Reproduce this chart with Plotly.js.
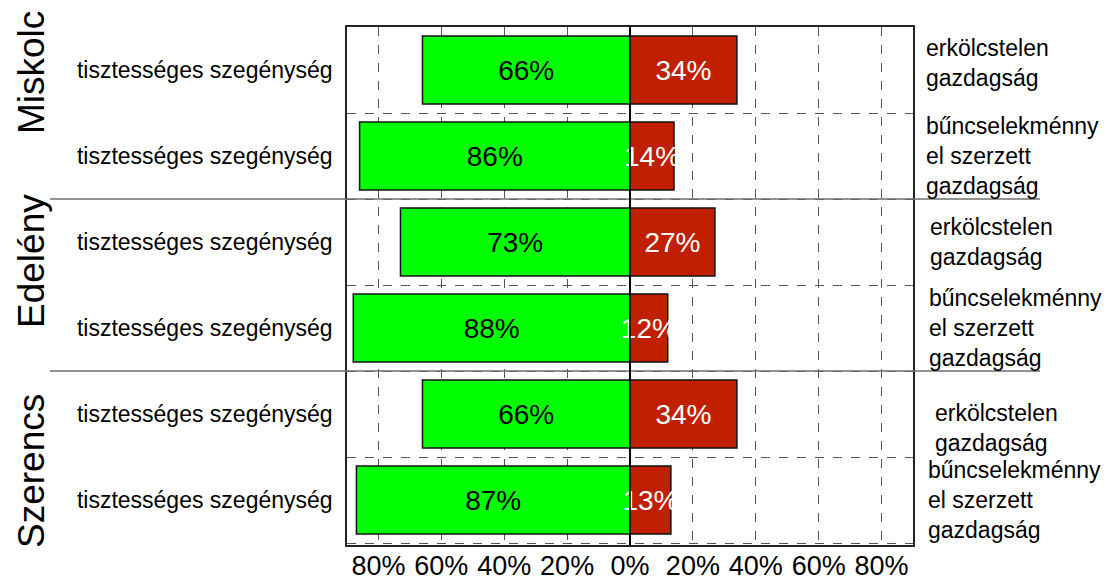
<!DOCTYPE html>
<html>
<head>
<meta charset="utf-8">
<script src="https://cdn.plot.ly/plotly-3.0.1.min.js"></script>
<style>html,body{margin:0;padding:0;background:#fff;}</style>
</head>
<body>
<div id="chart" style="width:1109px;height:584px;"></div>
<script>
// ---- data ----
const groups = ["Miskolc", "Edelény", "Szerencs"];
const rowIds = ["Miskolc-1", "Miskolc-2", "Edelény-1", "Edelény-2", "Szerencs-1", "Szerencs-2"];
const leftLabels = [
  "tisztességes szegénység", "tisztességes szegénység",
  "tisztességes szegénység", "tisztességes szegénység",
  "tisztességes szegénység", "tisztességes szegénység"
];
const rightLabels = [
  "erkölcstelen<br>gazdagság", "bűncselekménny<br>el szerzett<br>gazdagság",
  "erkölcstelen<br>gazdagság", "bűncselekménny<br>el szerzett<br>gazdagság",
  "erkölcstelen<br>gazdagság", "bűncselekménny<br>el szerzett<br>gazdagság"
];
const honestPoverty = [66, 86, 73, 88, 66, 87];   // left (green) share, %
const immoralWealth = [34, 14, 27, 12, 34, 13];   // right (red) share, %
const xTickVals = [-80, -60, -40, -20, 0, 20, 40, 60, 80];
const xTickText = ["80%", "60%", "40%", "20%", "0%", "20%", "40%", "60%", "80%"];

// ---- styling ----
const FONT = "Liberation Sans, Arial, Helvetica, sans-serif";
const W = 1109, H = 584;
const M = {l: 347, r: 196, t: 27, b: 39};
const plotW = W - M.l - M.r;
const pxToPaperX = px => (px - M.l) / plotW;

const traces = [
  {
    type: "bar", orientation: "h", y: rowIds,
    x: honestPoverty.map(v => -v),
    text: honestPoverty.map(v => v + "%"),
    textposition: "inside", insidetextanchor: "middle", constraintext: "none", textangle: 0,
    textfont: {family: FONT, size: 28, color: "#000"},
    marker: {color: "#00FF00", line: {color: "#111", width: 1.5}},
    hoverinfo: "skip", showlegend: false
  },
  {
    type: "bar", orientation: "h", y: rowIds,
    x: immoralWealth,
    text: immoralWealth.map(v => v + "%"),
    textposition: "inside", insidetextanchor: "middle", constraintext: "none", textangle: 0,
    textfont: {family: FONT, size: 28, color: "#fff"},
    marker: {color: "#C02000", line: {color: "#111", width: 1.5}},
    hoverinfo: "skip", showlegend: false
  }
];

const annotations = [];
// group labels (rotated), per-group pixel offsets to match the reference placement
const groupShift = [40, 24, -14];
groups.forEach((g, i) => {
  annotations.push({
    text: g, textangle: -90, showarrow: false,
    xref: "paper", x: pxToPaperX(31), xanchor: "center",
    yref: "y", y: 2 * i + 0.5, yanchor: "middle", yshift: groupShift[i],
    font: {family: FONT, size: 37, color: "#000"}
  });
});
// right-side labels
const rightShiftY = [7, 0, 0, 0, -14, 0];
const rightShiftX = [0, 0, 4, 3, 9, 2];
rightLabels.forEach((t, i) => {
  annotations.push({
    text: t, showarrow: false, align: "left",
    xref: "paper", x: pxToPaperX(924), xanchor: "left", xshift: rightShiftX[i],
    yref: "y", y: i, yanchor: "middle", yshift: rightShiftY[i],
    font: {family: FONT, size: 23, color: "#000"}
  });
});

// solid separators between groups, extending beyond the plot
const shapes = [1.5, 3.5].map(yb => ({
  type: "line", xref: "paper", yref: "y",
  x0: pxToPaperX(50), x1: pxToPaperX(1040), y0: yb, y1: yb,
  line: {color: "#6e6e6e", width: 1.6}, layer: "above"
}));
// zero line drawn on top
shapes.push({
  type: "line", xref: "x", yref: "paper", x0: 0, x1: 0, y0: 0, y1: 1,
  line: {color: "#000", width: 1.6}, layer: "above"
});

const layout = {
  width: W, height: H, autosize: false,
  margin: M,
  paper_bgcolor: "#fff", plot_bgcolor: "#fff",
  barmode: "relative", bargap: 0.21,
  font: {family: FONT, color: "#000"},
  xaxis: {
    range: [-90, 90], tickmode: "array", tickvals: xTickVals, ticktext: xTickText,
    tickfont: {family: FONT, size: 27, color: "#000"},
    ticklabelstandoff: -4,
    showgrid: true, gridcolor: "#555", griddash: "dash", gridwidth: 1,
    zeroline: true, zerolinecolor: "#000", zerolinewidth: 1.6,
    showline: true, mirror: true, linecolor: "#222", linewidth: 1.8,
    ticks: "", fixedrange: true
  },
  yaxis: {
    type: "category", categoryorder: "array", categoryarray: rowIds,
    autorange: "reversed",
    tickmode: "array", tickvals: rowIds, ticktext: leftLabels,
    tickson: "boundaries",
    tickfont: {family: FONT, size: 23, color: "#000"},
    ticklabelstandoff: 8,
    showgrid: true, gridcolor: "#555", griddash: "dash", gridwidth: 1,
    showline: true, mirror: true, linecolor: "#222", linewidth: 1.8,
    ticks: "", fixedrange: true
  },
  annotations: annotations,
  shapes: shapes
};

Plotly.newPlot("chart", traces, layout, {displayModeBar: false, staticPlot: true});
</script>
</body>
</html>
